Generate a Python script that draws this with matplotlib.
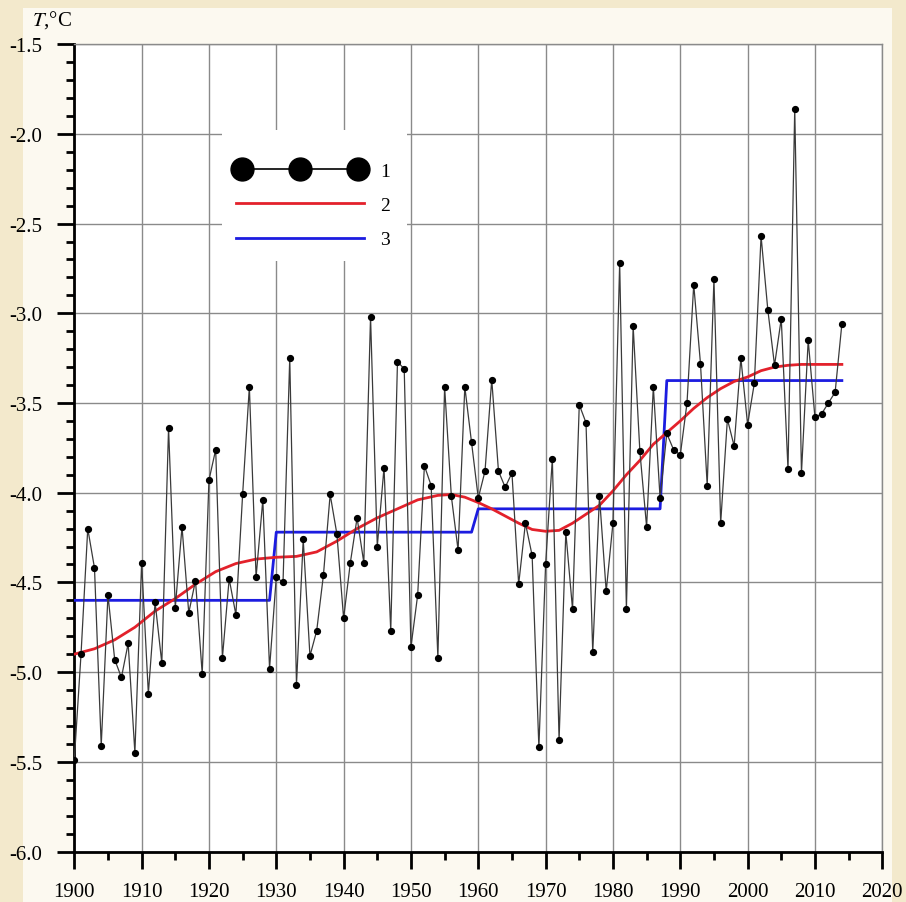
import numpy as np
import matplotlib
matplotlib.use('Agg')
import matplotlib.pyplot as plt
from matplotlib.lines import Line2D
from matplotlib.legend_handler import HandlerLine2D
from matplotlib.ticker import MultipleLocator, FormatStrFormatter

# Среднегодовая температура воздуха, 1900-2014
YEARS = list(range(1900, 2015))
TEMPS = [
    -5.49, -4.90, -4.20, -4.42, -5.41, -4.57, -4.93, -5.03, -4.84, -5.45,  # 1900-1909
    -4.39, -5.12, -4.61, -4.95, -3.64, -4.64, -4.19, -4.67, -4.49, -5.01,  # 1910-1919
    -3.93, -3.76, -4.92, -4.48, -4.68, -4.01, -3.41, -4.47, -4.04, -4.98,  # 1920-1929
    -4.47, -4.50, -3.25, -5.07, -4.26, -4.91, -4.77, -4.46, -4.01, -4.23,  # 1930-1939
    -4.70, -4.39, -4.14, -4.39, -3.02, -4.30, -3.86, -4.77, -3.27, -3.31,  # 1940-1949
    -4.86, -4.57, -3.85, -3.96, -4.92, -3.41, -4.02, -4.32, -3.41, -3.72,  # 1950-1959
    -4.03, -3.88, -3.37, -3.88, -3.97, -3.89, -4.51, -4.17, -4.35, -5.42,  # 1960-1969
    -4.40, -3.81, -5.38, -4.22, -4.65, -3.51, -3.61, -4.89, -4.02, -4.55,  # 1970-1979
    -4.17, -2.72, -4.65, -3.07, -3.77, -4.19, -3.41, -4.03, -3.67, -3.76,  # 1980-1989
    -3.79, -3.50, -2.84, -3.28, -3.96, -2.81, -4.17, -3.59, -3.74, -3.25,  # 1990-1999
    -3.62, -3.39, -2.57, -2.98, -3.29, -3.03, -3.87, -1.86, -3.89, -3.15,  # 2000-2009
    -3.58, -3.56, -3.50, -3.44, -3.06,                                     # 2010-2014
]

# Сглаженный тренд (2)
TREND_YEARS = [1900, 1903, 1906, 1909, 1912, 1915, 1918, 1921, 1924, 1927, 1930, 1933,
               1936, 1939, 1942, 1945, 1948, 1951, 1954, 1956, 1958, 1960, 1962, 1964,
               1966, 1968, 1970, 1972, 1974, 1976, 1978, 1980, 1982, 1984, 1986, 1988,
               1990, 1992, 1994, 1996, 1998, 2000, 2002, 2004, 2006, 2008, 2011, 2014]
TREND_VALUES = [-4.90, -4.87, -4.82, -4.75, -4.66, -4.59, -4.51, -4.44, -4.395, -4.37, -4.36, -4.355,
                -4.33, -4.27, -4.20, -4.14, -4.09, -4.04, -4.015, -4.01, -4.025, -4.055, -4.09, -4.13,
                -4.17, -4.205, -4.215, -4.21, -4.17, -4.12, -4.07, -3.99, -3.90, -3.82, -3.73, -3.665,
                -3.60, -3.53, -3.47, -3.42, -3.38, -3.355, -3.32, -3.30, -3.29, -3.285, -3.285, -3.285]

# Средние по периодам (3)
PERIOD_STARTS = [1900, 1930, 1960, 1988]
PERIOD_MEANS = [-4.60, -4.22, -4.09, -3.375]

LEGEND_LABELS = ['1', '2', '3']

BG_COLOR = '#f3e9cc'
GRID_COLOR = '#8a8a8a'
RED = '#e3212b'
BLUE = '#1c1ce0'


def period_series(years):
    idx = np.searchsorted(PERIOD_STARTS, years, side='right') - 1
    return np.array(PERIOD_MEANS)[idx]


def main():
    plt.rcParams['font.family'] = ['Liberation Serif', 'DejaVu Serif']
    plt.rcParams['mathtext.fontset'] = 'stix'
    plt.rcParams['axes.unicode_minus'] = False

    fig = plt.figure(figsize=(9.06, 9.03), dpi=100, facecolor=BG_COLOR)
    # светлая подложка под графиком
    fig.patches.append(plt.Rectangle((0.025, 0.0), 0.96, 0.99, transform=fig.transFigure,
                                     facecolor='#fcf9f0', edgecolor='none', zorder=-1))
    ax = fig.add_axes([0.0820, 0.0559, 0.8918, 0.8941])
    ax.set_facecolor('white')

    years = np.array(YEARS)
    ax.plot(years, period_series(years), color=BLUE, lw=2.0, zorder=3)
    ax.plot(TREND_YEARS, TREND_VALUES, color=RED, lw=2.0, zorder=4, solid_joinstyle='round')
    ax.plot(years, TEMPS, color='#3a3a3a', lw=0.9, marker='o', ms=4.2,
            mfc='black', mec='black', zorder=5)

    ax.set_xlim(1900, 2020)
    ax.set_ylim(-6.0, -1.5)
    ax.xaxis.set_major_locator(MultipleLocator(10))
    ax.xaxis.set_minor_locator(MultipleLocator(5))
    ax.yaxis.set_major_locator(MultipleLocator(0.5))
    ax.yaxis.set_minor_locator(MultipleLocator(0.1))
    ax.yaxis.set_major_formatter(FormatStrFormatter('%.1f'))

    ax.grid(True, which='major', color=GRID_COLOR, lw=1.0)
    ax.set_axisbelow(True)

    for side in ['top', 'right']:
        ax.spines[side].set_color(GRID_COLOR)
        ax.spines[side].set_linewidth(1.0)
    for side in ['left', 'bottom']:
        ax.spines[side].set_color('black')
        ax.spines[side].set_linewidth(2.0)

    ax.tick_params(which='major', direction='out', length=12, width=2, labelsize=15)
    ax.tick_params(which='minor', direction='out', length=6, width=2)
    ax.tick_params(axis='x', which='major', pad=10)
    ax.tick_params(axis='y', which='major', pad=11)
    ax.tick_params(top=False, right=False, which='both')

    ax.text(-0.0525, 1.0306, r'$T$,°C', transform=ax.transAxes, fontsize=15,
            ha='left', va='center')

    # белое поле под легендой перекрывает сетку
    ax.add_patch(plt.Rectangle((0.183, 0.731), 0.229, 0.163, transform=ax.transAxes,
                               facecolor='white', edgecolor='none', zorder=1))

    handles = [
        Line2D([], [], color='black', lw=1.2, marker='o', ms=16.5, mfc='black', mec='black'),
        Line2D([], [], color=RED, lw=2.0),
        Line2D([], [], color=BLUE, lw=2.0),
    ]
    leg = ax.legend(handles, LEGEND_LABELS, loc='upper left', bbox_to_anchor=(0.1712, 0.8756),
                    numpoints=3, handlelength=7.2, handletextpad=0.5, labelspacing=0.86,
                    fontsize=14, frameon=False, borderpad=0.4,
                    handler_map={handles[0]: HandlerLine2D(marker_pad=0.62)})
    leg.set_zorder(6)

    fig.savefig('out.png', dpi=100, facecolor=BG_COLOR)


if __name__ == '__main__':
    main()
